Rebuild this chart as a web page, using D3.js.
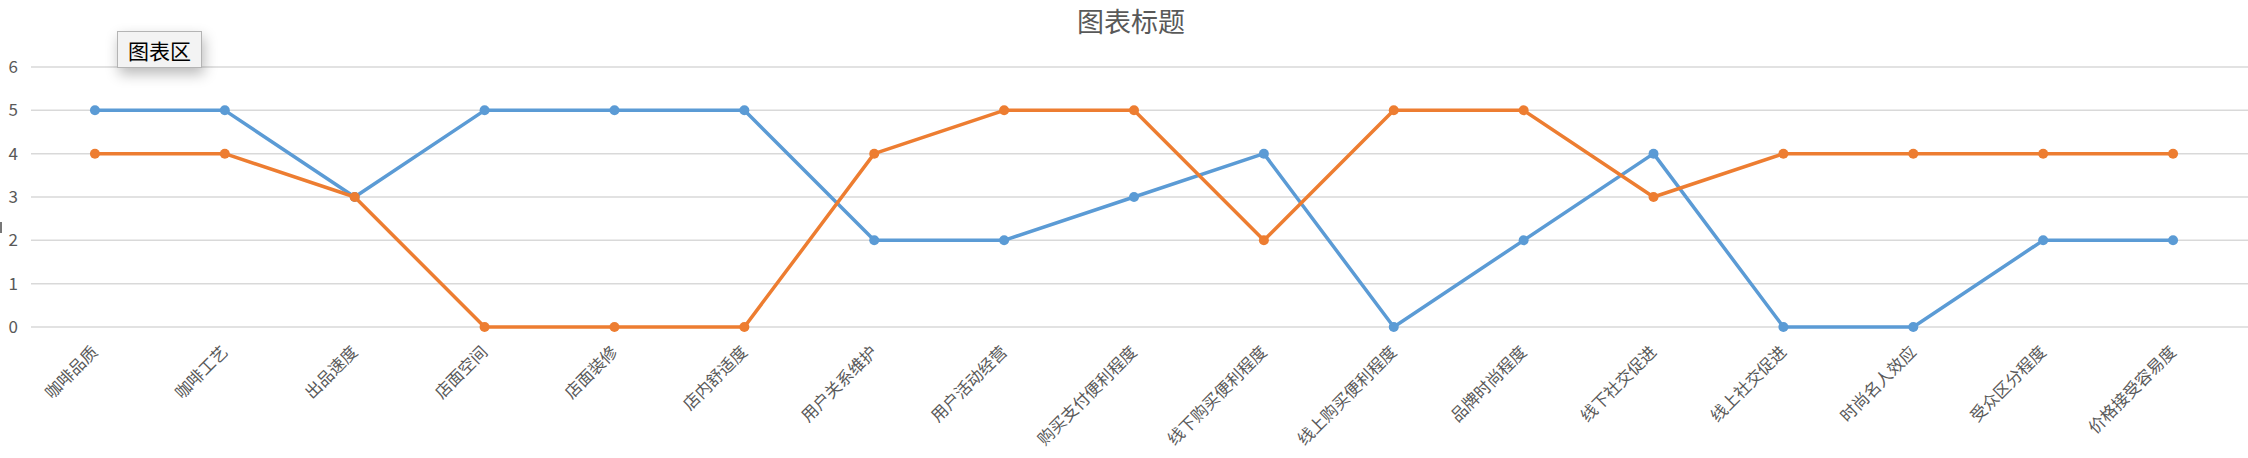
<!DOCTYPE html>
<html>
<head>
<meta charset="utf-8">
<script src="https://cdn.jsdelivr.net/npm/d3@7"></script>
<style>
  html, body { margin: 0; padding: 0; background: #fff; }
  svg { display: block; }
  .tip {
    position: absolute; left: 117px; top: 31px; width: 83px; height: 35px;
    background: #f3f3f3; border: 1px solid #b4b4b4;
    box-shadow: 2px 6px 14px rgba(0,0,0,0.28);
    font: 21px "Noto Sans CJK SC", sans-serif; color: #000;
    display: flex; align-items: center; justify-content: center;
  }
</style>
</head>
<body>
<div id="chart"></div>
<script>
const WIDTH = 2248;
const HEIGHT = 458;

const categories = ['咖啡品质', '咖啡工艺', '出品速度', '店面空间', '店面装修', '店内舒适度',
  '用户关系维护', '用户活动经营', '购买支付便利程度', '线下购买便利程度', '线上购买便利程度',
  '品牌时尚程度', '线下社交促进', '线上社交促进', '时尚名人效应', '受众区分程度', '价格接受容易度'];
const seriesBlue = [5, 5, 3, 5, 5, 5, 2, 2, 3, 4, 0, 2, 4, 0, 0, 2, 2];
const seriesOrange = [4, 4, 3, 0, 0, 0, 4, 5, 5, 2, 5, 5, 3, 4, 4, 4, 4];
const yTicks = [0, 1, 2, 3, 4, 5, 6];

const series = [
  { name: '系列1', values: seriesBlue, color: '#5b9bd5' },
  { name: '系列2', values: seriesOrange, color: '#ed7d31' }
];

const root = d3.select('#chart').style('position', 'relative');

const svg = root.append('svg')
  .attr('width', WIDTH)
  .attr('height', HEIGHT);

const x = d3.scaleBand()
  .domain(categories)
  .range([30, 2238]);

const y = d3.scaleLinear()
  .domain([0, 6])
  .range([327, 67]);

const font = '"Noto Sans CJK SC", "Noto Sans", sans-serif';

// title
svg.append('text')
  .attr('x', 1131)
  .attr('y', 32)
  .attr('text-anchor', 'middle')
  .attr('font-family', font)
  .attr('font-size', 27)
  .attr('fill', '#595959')
  .text('图表标题');

// gridlines
svg.append('g')
  .selectAll('line')
  .data(yTicks)
  .enter()
  .append('line')
  .attr('x1', 31)
  .attr('x2', WIDTH)
  .attr('y1', d => y(d))
  .attr('y2', d => y(d))
  .attr('stroke', '#d9d9d9')
  .attr('stroke-width', 1.5);

// y axis labels
const yAxis = svg.append('g')
  .attr('transform', 'translate(18,0)')
  .call(d3.axisLeft(y).tickValues(yTicks).tickFormat(d3.format('d')).tickSize(0).tickPadding(0));
yAxis.select('.domain').remove();
yAxis.selectAll('text')
  .attr('font-family', font)
  .attr('font-size', 17)
  .attr('fill', '#595959');

// x axis labels
const xAxis = svg.append('g')
  .attr('transform', 'translate(0,327)')
  .call(d3.axisBottom(x).tickSize(0).tickPadding(0));
xAxis.select('.domain').remove();
xAxis.selectAll('text')
  .attr('font-family', font)
  .attr('font-size', 16.5)
  .attr('fill', '#595959')
  .attr('text-anchor', 'end')
  .attr('dy', null)
  .attr('y', 0)
  .attr('transform', 'translate(4,26) rotate(-45)');

// lines + markers
const line = d3.line()
  .x((d, i) => x(categories[i]) + x.bandwidth() / 2)
  .y(d => y(d));

const sg = svg.append('g')
  .selectAll('g')
  .data(series)
  .enter()
  .append('g');

sg.append('path')
  .attr('d', d => line(d.values))
  .attr('fill', 'none')
  .attr('stroke', d => d.color)
  .attr('stroke-width', 3.5)
  .attr('stroke-linejoin', 'round');

sg.selectAll('circle')
  .data(d => d.values.map((v, i) => ({ v, i, color: d.color })))
  .enter()
  .append('circle')
  .attr('cx', d => x(categories[d.i]) + x.bandwidth() / 2)
  .attr('cy', d => y(d.v))
  .attr('r', 5)
  .attr('fill', d => d.color);

// clipped axis title remnant at the left edge
svg.append('rect')
  .attr('x', 0).attr('y', 222)
  .attr('width', 2).attr('height', 11)
  .attr('fill', '#777');

// hover tooltip
root.append('div').attr('class', 'tip').text('图表区');
</script>
</body>
</html>
